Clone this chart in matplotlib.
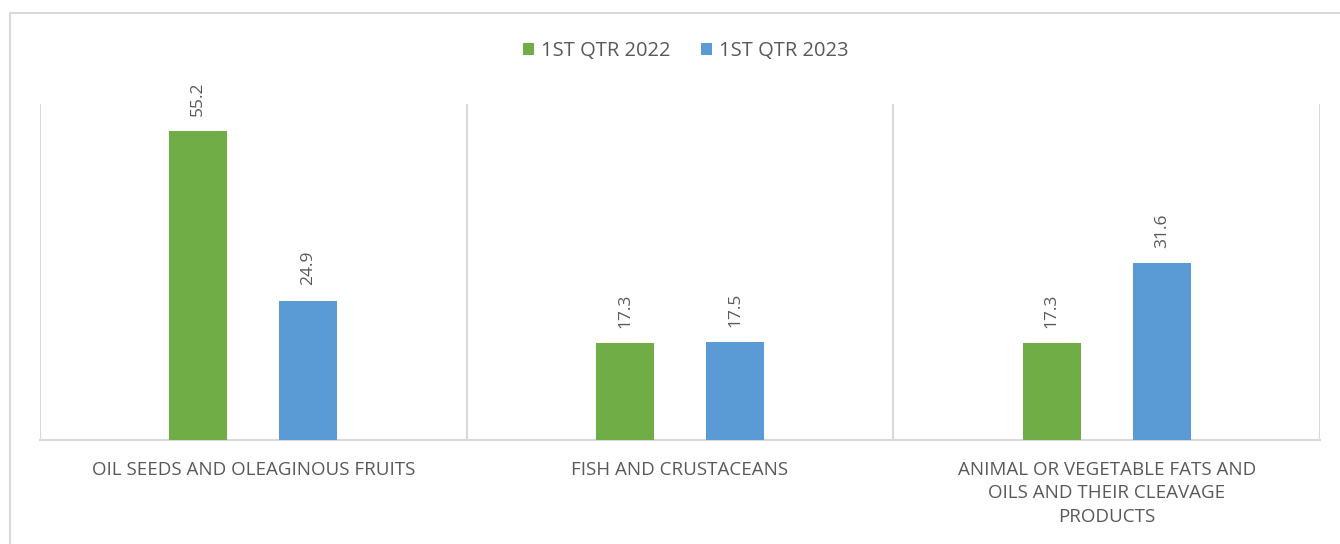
import matplotlib
matplotlib.use("Agg")
import matplotlib.pyplot as plt
import numpy as np
from matplotlib.patches import Rectangle

# datos del grafico
categorias = ["OIL SEEDS AND OLEAGINOUS FRUITS",
              "FISH AND CRUSTACEANS",
              "ANIMAL OR VEGETABLE FATS AND\nOILS AND THEIR CLEAVAGE\nPRODUCTS"]
serie_2022 = [55.2, 17.3, 17.3]
serie_2023 = [24.9, 17.5, 31.6]
nombres_series = ["1ST QTR 2022", "1ST QTR 2023"]

VERDE = "#70AD47"
AZUL = "#5B9BD5"
GRIS_TEXTO = "#595959"
GRIS_LINEA = "#D9D9D9"

plt.rcParams['font.family'] = ['Open Sans', 'DejaVu Sans']

fig = plt.figure(figsize=(13.4, 5.44), dpi=100)
ax = fig.add_axes([40/1340, 104/544, 1280/1340, 336/544])

# marco exterior del grafico
fig.patches.append(Rectangle((10/1340, -0.05), 1.2, (544-13)/544 + 0.05,
                             transform=fig.transFigure, fill=False,
                             edgecolor=GRIS_LINEA, linewidth=1.5))

x = np.arange(len(categorias))
ancho = 0.136
desp = 0.129
b1 = ax.bar(x - desp, serie_2022, ancho, color=VERDE, label=nombres_series[0], zorder=3)
b2 = ax.bar(x + desp, serie_2023, ancho, color=AZUL, label=nombres_series[1], zorder=3)

# etiquetas de valores rotadas
for barras in (b1, b2):
    for r in barras:
        ax.annotate(f"{r.get_height():.1f}",
                    (r.get_x() + r.get_width()/2, r.get_height()),
                    xytext=(0, 11), textcoords="offset points",
                    rotation=90, ha="center", va="bottom",
                    fontsize=12.5, color=GRIS_TEXTO)

ax.set_xlim(-0.5, len(categorias) - 0.5)
ax.set_ylim(0, 60)
ax.set_yticks([])
ax.set_xticks(x)
ax.set_xticklabels(categorias, fontsize=13.5, color=GRIS_TEXTO, linespacing=1.4)
ax.tick_params(axis="x", length=0, pad=15)

# separadores verticales entre categorias
for s in np.arange(-0.5, len(categorias), 1.0):
    ax.axvline(s, color=GRIS_LINEA, linewidth=1.5, zorder=1)

for lado in ("top", "right", "left"):
    ax.spines[lado].set_visible(False)
ax.spines["bottom"].set_color(GRIS_LINEA)
ax.spines["bottom"].set_linewidth(1.5)

leg = fig.legend(loc="center", bbox_to_anchor=(0.512, (544-51)/544), ncol=2,
                 frameon=False, fontsize=14.5, handlelength=0.55, handleheight=0.55,
                 columnspacing=1.5, handletextpad=0.35)
for t in leg.get_texts():
    t.set_color(GRIS_TEXTO)

fig.savefig("out.png", dpi=100)
